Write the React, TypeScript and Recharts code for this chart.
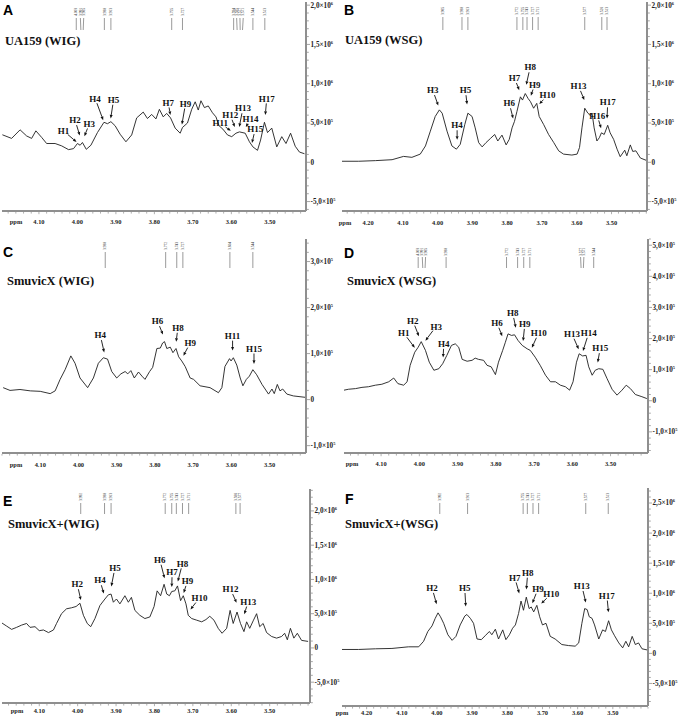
import React from "react";
import { LineChart, Line, XAxis, YAxis, ReferenceLine } from "recharts";

const SERIF = '"Liberation Serif", "Times New Roman", serif';
const SANS = '"Liberation Sans", Arial, sans-serif';
const AXIS = "#8f8f8f";
const INK = "#1e1e1e";

// spectra: [ppm, intensity in units of 1e5]
const specA: [number, number][] = [
  [4.195, 3.5], [4.171, 3.04], [4.149, 4.13], [4.132, 3.35], [4.119, 3.04], [4.108, 4.0], [4.093, 3.17],
  [4.08, 2.39], [4.058, 2.39], [4.041, 2.09], [4.023, 1.61], [4.01, 1.74], [4.0, 2.39], [3.993, 2.17],
  [3.987, 2.52], [3.977, 1.65], [3.965, 2.17], [3.948, 3.78], [3.931, 5.09], [3.922, 4.91], [3.913, 5.17],
  [3.902, 4.65], [3.889, 3.57], [3.874, 2.61], [3.859, 3.48], [3.846, 5.65], [3.829, 6.39], [3.818, 5.57],
  [3.807, 6.09], [3.796, 5.52], [3.787, 6.74], [3.777, 5.78], [3.768, 6.22], [3.758, 5.65], [3.746, 4.35],
  [3.733, 3.7], [3.727, 4.43], [3.714, 5.0], [3.703, 6.74], [3.694, 7.7], [3.686, 6.65], [3.679, 7.83],
  [3.67, 6.96], [3.66, 7.17], [3.649, 6.3], [3.64, 5.78], [3.632, 4.65], [3.622, 4.22], [3.61, 3.48],
  [3.599, 3.26], [3.588, 3.7], [3.579, 3.87], [3.564, 3.7], [3.553, 2.61], [3.544, 1.96], [3.532, 1.52],
  [3.524, 2.83], [3.514, 5.09], [3.506, 3.78], [3.495, 4.35], [3.482, 1.96], [3.469, 3.26], [3.458, 2.39],
  [3.446, 3.7], [3.434, 2.04], [3.423, 1.3], [3.41, 1.09],
];
const specB: [number, number][] = [
  [4.275, 0.13], [4.227, 0.13], [4.179, 0.21], [4.131, 0.33], [4.098, 0.75], [4.074, 0.63], [4.05, 1.04],
  [4.035, 2.08], [4.021, 3.96], [4.007, 5.83], [3.995, 6.67], [3.987, 6.25], [3.973, 3.96], [3.959, 2.08],
  [3.946, 1.67], [3.935, 2.29], [3.922, 4.79], [3.913, 6.25], [3.901, 5.83], [3.892, 4.38], [3.882, 2.5],
  [3.872, 1.96], [3.861, 2.5], [3.848, 3.04], [3.836, 3.54], [3.827, 2.71], [3.815, 3.46], [3.803, 2.21],
  [3.794, 2.92], [3.786, 4.38], [3.779, 5.21], [3.772, 6.46], [3.762, 8.33], [3.756, 7.92], [3.748, 8.75],
  [3.74, 8.13], [3.733, 7.71], [3.724, 6.88], [3.715, 7.5], [3.708, 5.83], [3.695, 4.79], [3.681, 3.54],
  [3.666, 2.5], [3.652, 1.46], [3.638, 1.04], [3.614, 0.92], [3.599, 1.04], [3.592, 1.88], [3.585, 4.38],
  [3.577, 6.88], [3.568, 6.25], [3.561, 5.96], [3.556, 6.25], [3.55, 4.38], [3.542, 2.71], [3.535, 3.13],
  [3.529, 3.75], [3.521, 3.54], [3.511, 4.71], [3.504, 3.75], [3.494, 2.92], [3.484, 1.67], [3.475, 0.71],
  [3.462, 1.54], [3.456, 0.83], [3.446, 2.21], [3.439, 1.38], [3.43, 1.46], [3.417, 0.54], [3.398, 0.21],
];
const specC: [number, number][] = [
  [4.197, 0.26], [4.179, 0.2], [4.153, 0.22], [4.126, 0.19], [4.1, 0.18], [4.074, 0.13], [4.061, 0.19],
  [4.048, 0.44], [4.035, 0.65], [4.02, 0.95], [4.009, 0.79], [3.996, 0.47], [3.976, 0.26], [3.961, 0.47],
  [3.948, 0.79], [3.935, 0.91], [3.924, 0.88], [3.913, 0.61], [3.9, 0.47], [3.889, 0.56], [3.878, 0.61],
  [3.871, 0.56], [3.863, 0.63], [3.854, 0.47], [3.843, 0.6], [3.834, 0.51], [3.826, 0.44], [3.814, 0.61],
  [3.806, 0.7], [3.795, 1.11], [3.786, 1.12], [3.78, 1.23], [3.775, 1.26], [3.769, 1.11], [3.76, 1.14],
  [3.753, 1.02], [3.745, 1.11], [3.738, 0.93], [3.73, 0.84], [3.721, 0.72], [3.708, 0.47], [3.699, 0.44],
  [3.682, 0.3], [3.656, 0.26], [3.634, 0.15], [3.625, 0.26], [3.617, 0.72], [3.605, 0.89], [3.601, 0.84],
  [3.595, 0.91], [3.586, 0.75], [3.577, 0.47], [3.57, 0.3], [3.561, 0.44], [3.553, 0.51], [3.544, 0.65],
  [3.534, 0.54], [3.52, 0.33], [3.503, 0.12], [3.494, 0.23], [3.488, 0.13], [3.48, 0.33], [3.473, 0.19],
  [3.466, 0.23], [3.455, 0.12], [3.438, 0.08], [3.407, 0.05],
];
const specD: [number, number][] = [
  [4.197, 0.34], [4.185, 0.37], [4.167, 0.39], [4.15, 0.43], [4.133, 0.45], [4.115, 0.5], [4.098, 0.53],
  [4.08, 0.61], [4.067, 0.73], [4.056, 0.55], [4.041, 0.5], [4.032, 0.61], [4.024, 1.14], [4.012, 1.56],
  [4.003, 1.72], [3.995, 1.9], [3.984, 1.62], [3.974, 1.24], [3.962, 0.98], [3.949, 1.03], [3.939, 1.19],
  [3.928, 1.46], [3.916, 1.78], [3.906, 1.83], [3.897, 1.72], [3.888, 1.33], [3.875, 1.27], [3.862, 1.3],
  [3.854, 1.37], [3.845, 1.33], [3.832, 1.3], [3.823, 1.14], [3.812, 1.09], [3.801, 0.84], [3.793, 1.24],
  [3.782, 1.62], [3.775, 1.88], [3.768, 2.15], [3.759, 2.1], [3.751, 2.12], [3.742, 1.94], [3.731, 1.78],
  [3.718, 1.67], [3.71, 1.62], [3.697, 1.4], [3.684, 1.14], [3.67, 0.82], [3.657, 0.61], [3.644, 0.61],
  [3.631, 0.5], [3.618, 0.45], [3.607, 0.34], [3.598, 0.61], [3.589, 1.24], [3.582, 1.51], [3.573, 1.44],
  [3.564, 1.46], [3.557, 1.09], [3.548, 0.82], [3.54, 0.98], [3.531, 1.03], [3.52, 1.01], [3.509, 0.71],
  [3.496, 0.37], [3.483, 0.18], [3.47, 0.34], [3.459, 0.5], [3.448, 0.39], [3.435, 0.2], [3.418, 0.13],
  [3.405, 0.07],
];
const specE: [number, number][] = [
  [4.198, 3.67], [4.185, 3.19], [4.172, 2.71], [4.159, 3.0], [4.146, 3.33], [4.133, 3.57], [4.124, 3.0],
  [4.111, 3.1], [4.1, 2.52], [4.089, 2.62], [4.076, 2.24], [4.063, 2.62], [4.055, 3.57], [4.042, 5.0],
  [4.029, 5.71], [4.016, 5.86], [4.004, 6.05], [3.994, 6.52], [3.985, 4.76], [3.975, 3.57], [3.966, 3.1],
  [3.955, 4.29], [3.942, 6.19], [3.929, 7.14], [3.92, 7.76], [3.913, 7.86], [3.907, 6.67], [3.899, 7.14],
  [3.89, 6.43], [3.877, 7.62], [3.868, 6.67], [3.86, 7.38], [3.851, 5.48], [3.838, 4.76], [3.825, 4.29],
  [3.812, 4.52], [3.801, 6.05], [3.793, 8.33], [3.784, 7.62], [3.775, 9.29], [3.768, 7.86], [3.761, 7.62],
  [3.755, 8.24], [3.747, 8.33], [3.74, 9.05], [3.732, 6.9], [3.725, 7.62], [3.718, 6.43], [3.712, 4.76],
  [3.703, 4.29], [3.69, 4.05], [3.677, 3.81], [3.666, 4.14], [3.656, 4.62], [3.645, 4.05], [3.634, 2.86],
  [3.624, 2.14], [3.612, 2.86], [3.603, 5.48], [3.595, 3.57], [3.585, 5.24], [3.576, 3.57], [3.567, 2.38],
  [3.56, 3.81], [3.552, 2.86], [3.543, 3.95], [3.534, 5.0], [3.526, 3.1], [3.517, 3.57], [3.508, 2.24],
  [3.495, 1.67], [3.482, 1.43], [3.469, 1.67], [3.461, 2.14], [3.454, 1.19], [3.446, 2.86], [3.437, 1.43],
  [3.428, 2.14], [3.417, 1.1], [3.4, 0.95],
];
const specF: [number, number][] = [
  [4.27, 0.65], [4.223, 0.65], [4.175, 0.76], [4.128, 0.82], [4.081, 1.09], [4.052, 1.09], [4.038, 2.01],
  [4.026, 3.64], [4.014, 4.57], [4.005, 5.82], [3.997, 6.74], [3.99, 6.09], [3.981, 5.0], [3.969, 3.1],
  [3.957, 2.17], [3.946, 2.83], [3.934, 4.73], [3.921, 6.2], [3.915, 6.47], [3.905, 5.82], [3.896, 5.0],
  [3.886, 2.39], [3.874, 2.28], [3.863, 2.93], [3.851, 3.64], [3.844, 3.1], [3.834, 4.02], [3.825, 2.39],
  [3.813, 3.91], [3.804, 2.28], [3.794, 3.1], [3.785, 4.18], [3.777, 4.73], [3.768, 6.63], [3.761, 8.7],
  [3.754, 7.17], [3.746, 9.35], [3.738, 7.45], [3.732, 7.72], [3.725, 6.9], [3.716, 7.99], [3.708, 6.09],
  [3.7, 4.73], [3.69, 5.0], [3.678, 2.83], [3.664, 2.39], [3.645, 1.47], [3.626, 1.3], [3.607, 1.2],
  [3.597, 1.74], [3.588, 5.0], [3.58, 7.45], [3.573, 7.28], [3.567, 6.09], [3.559, 5.82], [3.552, 4.73],
  [3.54, 2.39], [3.529, 3.91], [3.521, 3.64], [3.512, 5.43], [3.504, 3.91], [3.495, 2.93], [3.483, 1.74],
  [3.472, 0.92], [3.463, 2.01], [3.455, 1.09], [3.445, 2.83], [3.436, 1.47], [3.427, 1.74], [3.417, 0.76],
  [3.4, 0.54],
];

// peak labels: [name, peak ppm, peak intensity, label ppm, label intensity]
type Peak = [string, number, number, number, number];
const peaksA: Peak[] = [
  ["H1", 4.0, 2.48, 4.036, 4.0], ["H2", 3.993, 3.26, 4.006, 5.35], ["H3", 3.983, 3.17, 3.969, 4.91],
  ["H4", 3.932, 5.22, 3.954, 8.13], ["H5", 3.914, 5.43, 3.906, 7.96], ["H7", 3.758, 5.87, 3.764, 7.61],
  ["H9", 3.729, 4.65, 3.719, 7.48], ["H11", 3.599, 3.91, 3.629, 5.0], ["H12", 3.59, 4.35, 3.603, 6.04],
  ["H13", 3.58, 4.35, 3.57, 6.87], ["H14", 3.564, 4.35, 3.55, 5.52], ["H15", 3.547, 2.3, 3.538, 4.22],
  ["H17", 3.512, 5.87, 3.508, 8.13],
];
const peaksB: Peak[] = [
  ["H3", 3.997, 7.08, 4.014, 9.17], ["H4", 3.944, 2.71, 3.944, 4.71], ["H5", 3.915, 7.21, 3.92, 9.17],
  ["H6", 3.782, 5.42, 3.794, 7.5], ["H7", 3.764, 9.04, 3.779, 10.7], ["H8", 3.746, 9.71, 3.734, 12.08],
  ["H9", 3.733, 8.33, 3.721, 9.88], ["H10", 3.71, 7.29, 3.684, 8.54], ["H13", 3.577, 7.79, 3.595, 9.71],
  ["H16", 3.529, 4.17, 3.541, 5.96], ["H17", 3.513, 5.42, 3.511, 7.63],
];
const peaksC: Peak[] = [
  ["H4", 3.932, 1.0, 3.943, 1.4], ["H6", 3.778, 1.39, 3.793, 1.7], ["H8", 3.745, 1.23, 3.74, 1.56],
  ["H9", 3.727, 0.93, 3.708, 1.23], ["H11", 3.597, 1.04, 3.597, 1.39], ["H15", 3.541, 0.75, 3.541, 1.11],
];
const peaksD: Peak[] = [
  ["H1", 4.01, 1.67, 4.041, 2.18], ["H2", 4.0, 2.04, 4.017, 2.57], ["H3", 3.986, 1.9, 3.956, 2.39],
  ["H4", 3.938, 1.35, 3.936, 1.83], ["H6", 3.782, 2.04, 3.797, 2.5], ["H8", 3.747, 2.31, 3.756, 2.82],
  ["H9", 3.729, 1.88, 3.724, 2.47], ["H10", 3.707, 1.67, 3.688, 2.18], ["H13", 3.582, 1.62, 3.601, 2.15],
  ["H14", 3.573, 1.56, 3.557, 2.18], ["H15", 3.534, 1.19, 3.527, 1.69],
];
const peaksE: Peak[] = [
  ["H2", 3.991, 6.81, 4.001, 9.29], ["H4", 3.931, 7.76, 3.942, 9.86], ["H5", 3.913, 8.81, 3.903, 11.67],
  ["H6", 3.773, 10.0, 3.786, 12.86], ["H7", 3.755, 8.71, 3.754, 11.05], ["H8", 3.74, 9.52, 3.727, 12.33],
  ["H9", 3.725, 7.86, 3.714, 9.76], ["H10", 3.708, 5.48, 3.683, 7.29], ["H12", 3.585, 6.43, 3.602, 8.57],
  ["H13", 3.567, 4.76, 3.556, 6.76],
];
const peaksF: Peak[] = [
  ["H2", 4.0, 7.99, 4.014, 10.87], ["H5", 3.918, 7.61, 3.921, 10.87], ["H7", 3.765, 9.78, 3.779, 12.61],
  ["H8", 3.746, 10.43, 3.742, 13.42], ["H9", 3.73, 8.15, 3.713, 10.71], ["H10", 3.706, 8.15, 3.675, 9.89],
  ["H13", 3.576, 8.26, 3.588, 11.2], ["H17", 3.512, 6.63, 3.517, 9.62],
];

// assigned chemical shifts printed along the top
const shiftsA = [4.003, 3.991, 3.985, 3.93, 3.913, 3.755, 3.727, 3.594, 3.585, 3.577, 3.571, 3.544, 3.513];
const shiftsB = [3.985, 3.93, 3.913, 3.772, 3.755, 3.743, 3.727, 3.711, 3.577, 3.528, 3.513];
const shiftsC = [3.93, 3.772, 3.743, 3.727, 3.604, 3.544];
const shiftsD = [4.003, 3.991, 3.985, 3.93, 3.772, 3.743, 3.727, 3.711, 3.577, 3.571, 3.544];
const shiftsE = [3.992, 3.93, 3.913, 3.772, 3.755, 3.743, 3.727, 3.711, 3.588, 3.577];
const shiftsF = [3.992, 3.913, 3.755, 3.743, 3.727, 3.711, 3.577, 3.513];

// axis labels
const ppmLabels1 = [4.1, 4.0, 3.9, 3.8, 3.7, 3.6, 3.5];
const ppmLabels2 = [4.2, 4.1, 4.0, 3.9, 3.8, 3.7, 3.6, 3.5];
const intLabelsA = [-5, 0, 5, 10, 15, 20];
const intLabelsC = [-1, 0, 1, 2, 3];
const intLabelsD = [-1, 0, 1, 2, 3, 4, 5];
const intLabelsF = [-5, 0, 5, 10, 15, 20, 25];

const letters = ["A", "B", "C", "D", "E", "F"];
const titles = ["UA159 (WIG)", "UA159 (WSG)", "SmuvicX (WIG)", "SmuvicX (WSG)", "SmuvicX+(WIG)", "SmuvicX+(WSG)"];

const panels = [
  {
    spec: specA, peaks: peaksA, shifts: shiftsA, ppmLabels: ppmLabels1, intLabels: intLabelsA, sep: ",",
    left: 0, top: 0, width: 342, height: 236, margin: { top: 2, right: 0, bottom: 0, left: 2 },
    yWidth: 36, xHeight: 25, xDomain: [3.406, 4.196], yDomain: [-6.2, 20.4], yMinor: 1, xLabelDy: 13,
    stick: [14, 16, 28], letterAt: [3, 15], titleAt: [5, 45], ppmAt: [16, 224],
  },
  {
    spec: specB, peaks: peaksB, shifts: shiftsB, ppmLabels: ppmLabels2, intLabels: intLabelsA, sep: ",",
    left: 342, top: 0, width: 342, height: 236, margin: { top: 2, right: 0, bottom: 0, left: 0 },
    yWidth: 37, xHeight: 25, xDomain: [3.398, 4.275], yDomain: [-6.2, 20.4], yMinor: 1, xLabelDy: 14,
    stick: [13, 15, 28], letterAt: [344, 15], titleAt: [345, 44], ppmAt: [345, 225],
  },
  {
    spec: specC, peaks: peaksC, shifts: shiftsC, ppmLabels: ppmLabels1, intLabels: intLabelsC, sep: ",",
    left: 0, top: 235, width: 342, height: 242, margin: { top: 4, right: 0, bottom: 0, left: 2 },
    yWidth: 36, xHeight: 24, xDomain: [3.405, 4.2], yDomain: [-1.16, 3.49], yMinor: 0.2, xLabelDy: 14,
    stick: [11, 13, 29], letterAt: [3, 257], titleAt: [7, 285], ppmAt: [16, 467],
  },
  {
    spec: specD, peaks: peaksD, shifts: shiftsD, ppmLabels: ppmLabels1, intLabels: intLabelsD, sep: ",",
    left: 342, top: 235, width: 342, height: 242, margin: { top: 4, right: 0, bottom: 0, left: 2 },
    yWidth: 36, xHeight: 24, xDomain: [3.402, 4.197], yDomain: [-1.68, 5.2], yMinor: 0.2, xLabelDy: 13,
    stick: [17, 18, 29], letterAt: [344, 258], titleAt: [347, 285], ppmAt: [352, 466],
  },
  {
    spec: specE, peaks: peaksE, shifts: shiftsE, ppmLabels: ppmLabels1, intLabels: intLabelsA, sep: ",",
    left: 0, top: 476, width: 342, height: 240, margin: { top: 13, right: 0, bottom: 0, left: 2 },
    yWidth: 32, xHeight: 13, xDomain: [3.395, 4.197], yDomain: [-8.04, 23.2], yMinor: 1, xLabelDy: 10,
    stick: [12, 14, 25], letterAt: [3, 506], titleAt: [8, 528], ppmAt: [17, 713],
  },
  {
    spec: specF, peaks: peaksF, shifts: shiftsF, ppmLabels: ppmLabels2, intLabels: intLabelsF, sep: ",",
    left: 342, top: 476, width: 342, height: 240, margin: { top: 12, right: 0, bottom: 0, left: 0 },
    yWidth: 36, xHeight: 10, xDomain: [3.4, 4.27], yDomain: [-8.75, 27.5], yMinor: 1, xLabelDy: 9,
    stick: [13, 15, 26], letterAt: [345, 504], titleAt: [345, 528], ppmAt: [342, 715],
  },
];

const near = (list: number[], v: number) => list.some((l) => Math.abs(l - v) < 1e-6);

const stepTicks = (lo: number, hi: number, step: number) => {
  const out: number[] = [];
  for (let i = Math.ceil(lo / step - 1e-9); i * step <= hi + 1e-9; i++) out.push(+(i * step).toFixed(4));
  return out;
};

// spread crowded shift labels so their text does not collide
const spreadOffsets = (shifts: number[], hi: number, k: number, gap: number) => {
  const order = shifts.map((s, i) => ({ i, p: (hi - s) * k })).sort((a, b) => a.p - b.p);
  const off = new Array(shifts.length).fill(0);
  let g = 0;
  while (g < order.length) {
    let e = g;
    while (e + 1 < order.length && order[e + 1].p - order[e].p < gap) e++;
    const grp = order.slice(g, e + 1);
    const mid = grp.reduce((t, o) => t + o.p, 0) / grp.length;
    grp.forEach((o, j) => {
      off[o.i] = mid - ((grp.length - 1) * gap) / 2 + j * gap - o.p;
    });
    g = e + 1;
  }
  return off;
};

function sci(v: number, sep: string) {
  if (Math.abs(v) < 1e-9) return { m: "0", e: "" };
  const val = v * 1e5;
  const e = Math.floor(Math.log10(Math.abs(val)) + 1e-9);
  const m = (val / Math.pow(10, e)).toFixed(1).replace(".", sep);
  return { m: m + "\u00d710", e: String(e) };
}

function YTick(props: any) {
  const { x, y, payload, labels, sep } = props;
  const major = near(labels, payload.value);
  const { m, e } = sci(payload.value, sep);
  return (
    <g>
      <line x1={x + 1} y1={y} x2={x + (major ? 4 : 2.8)} y2={y} stroke={AXIS} strokeWidth={0.8} />
      {major && (
        <text x={x + 4.5} y={y + 2.4} fontSize={7.2} fontWeight="bold" fontFamily={SERIF} fill="#222">
          {m}
          {e && (
            <tspan dy={-3} fontSize={4.4}>
              {e}
            </tspan>
          )}
        </text>
      )}
    </g>
  );
}

function XTick(props: any) {
  const { x, y, payload, labels, dy } = props;
  const major = near(labels, payload.value);
  return (
    <g>
      <line x1={x} y1={y + 1} x2={x} y2={y + (major ? 3.2 : 2.6)} stroke={AXIS} strokeWidth={0.7} />
      {major && (
        <text x={x} y={y + dy} textAnchor="middle" fontSize={6.4} fontWeight="bold" fontFamily={SERIF} fill="#222">
          {payload.value.toFixed(2)}
        </text>
      )}
    </g>
  );
}

function Stick(props: any) {
  const { x1, y1, y2, value, off, st } = props;
  const top = Math.min(y1, y2);
  const tx = x1 + off;
  return (
    <g>
      <line x1={tx} y1={top + st[1]} x2={x1} y2={top + st[2]} stroke="#555" strokeWidth={0.6} />
      <text
        x={tx + 1.2}
        y={top + st[0]}
        transform={`rotate(-90 ${tx + 1.2} ${top + st[0]})`}
        fontSize={3.6}
        fontFamily={SERIF}
        fill="#333"
      >
        {value.toFixed(3)}
      </text>
    </g>
  );
}

function PeakArrow(props: any) {
  const { x1, y1, x2, y2, name } = props;
  const dx = x2 - x1;
  const dy = y2 - y1;
  const len = Math.hypot(dx, dy) || 1;
  const ux = dx / len;
  const uy = dy / len;
  const hw = name.length * 2.7 + 0.8;
  const r = 1 / Math.sqrt((ux / hw) ** 2 + (uy / 5) ** 2);
  const sx = x1 + ux * r;
  const sy = y1 + uy * r;
  const ex = x2 - ux * 1.2;
  const ey = y2 - uy * 1.2;
  const hx = ex - ux * 3.6;
  const hy = ey - uy * 3.6;
  const px = -uy * 1.5;
  const py = ux * 1.5;
  return (
    <g>
      <text x={x1} y={y1 + 3.1} textAnchor="middle" fontSize={9} fontWeight="bold" fontFamily={SERIF} fill="#111">
        {name}
      </text>
      <line x1={sx} y1={sy} x2={hx} y2={hy} stroke="#111" strokeWidth={0.9} />
      <polygon points={`${ex},${ey} ${hx + px},${hy + py} ${hx - px},${hy - py}`} fill="#111" />
    </g>
  );
}

function Spectrum({ cfg }: { cfg: any }) {
  const rows = cfg.spec.map(([x, y]: [number, number]) => ({ x, y }));
  const [lo, hi] = cfg.xDomain;
  const plotW = cfg.width - cfg.margin.left - cfg.margin.right - cfg.yWidth;
  const offsets = spreadOffsets(cfg.shifts, hi, plotW / (hi - lo), 3.3);
  const xTicks = stepTicks(lo, hi, 0.02);
  const yTicks = stepTicks(cfg.yDomain[0], cfg.yDomain[1], cfg.yMinor);
  return (
    <div style={{ position: "absolute", left: cfg.left, top: cfg.top }}>
      <LineChart width={cfg.width} height={cfg.height} data={rows} margin={cfg.margin}>
        <XAxis
          type="number"
          dataKey="x"
          domain={cfg.xDomain}
          reversed
          allowDataOverflow
          ticks={xTicks}
          interval={0}
          height={cfg.xHeight}
          tickSize={0}
          tickMargin={0}
          tickLine={false}
          axisLine={{ stroke: AXIS, strokeWidth: 2 }}
          tick={(p: any) => <XTick {...p} labels={cfg.ppmLabels} dy={cfg.xLabelDy} />}
        />
        <YAxis
          orientation="right"
          type="number"
          domain={cfg.yDomain}
          allowDataOverflow
          ticks={yTicks}
          interval={0}
          width={cfg.yWidth}
          tickSize={0}
          tickMargin={0}
          tickLine={false}
          axisLine={{ stroke: AXIS, strokeWidth: 2 }}
          tick={(p: any) => <YTick {...p} labels={cfg.intLabels} sep={cfg.sep} />}
        />
        <Line
          type="linear"
          dataKey="y"
          stroke={INK}
          strokeWidth={0.9}
          dot={false}
          activeDot={false}
          isAnimationActive={false}
        />
        {cfg.shifts.map((s: number, i: number) => (
          <ReferenceLine
            key={"s" + i}
            x={s}
            ifOverflow="visible"
            shape={(p: any) => <Stick {...p} value={s} off={offsets[i]} st={cfg.stick} />}
          />
        ))}
        {cfg.peaks.map(([n, px, py, tx, ty]: Peak) => (
          <ReferenceLine
            key={n}
            segment={[
              { x: tx, y: ty },
              { x: px, y: py },
            ]}
            ifOverflow="visible"
            shape={(p: any) => <PeakArrow {...p} name={n} />}
          />
        ))}
      </LineChart>
    </div>
  );
}

export default function App() {
  return (
    <div
      style={{
        position: "absolute",
        left: 0,
        top: 0,
        width: 684,
        height: 716,
        overflow: "hidden",
        background: "#fff",
      }}
    >
      {panels.map((cfg, i) => (
        <Spectrum key={letters[i]} cfg={cfg} />
      ))}
      <svg width={684} height={716} style={{ position: "absolute", left: 0, top: 0, pointerEvents: "none" }}>
        {panels.map((cfg, i) => (
          <g key={letters[i]}>
            <text x={cfg.letterAt[0]} y={cfg.letterAt[1]} fontSize={14} fontWeight="bold" fontFamily={SANS} fill="#000">
              {letters[i]}
            </text>
            <text x={cfg.titleAt[0]} y={cfg.titleAt[1]} fontSize={12.5} fontWeight="bold" fontFamily={SERIF} fill="#111">
              {titles[i]}
            </text>
            <text
              x={cfg.ppmAt[0]}
              y={cfg.ppmAt[1]}
              textAnchor="middle"
              fontSize={6.4}
              fontWeight="bold"
              fontFamily={SERIF}
              fill="#222"
            >
              ppm
            </text>
          </g>
        ))}
      </svg>
    </div>
  );
}
